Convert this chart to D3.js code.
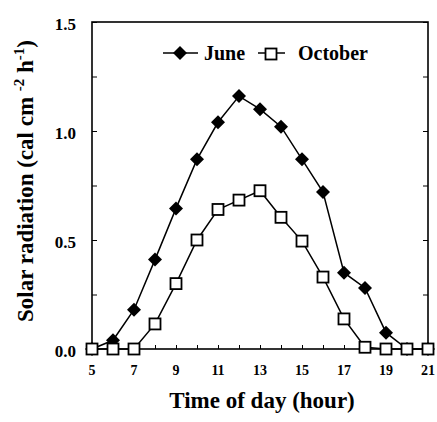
<!DOCTYPE html>
<html>
<head>
<meta charset="utf-8">
<script src="https://cdn.jsdelivr.net/npm/d3@7"></script>
<style>
  html, body { margin: 0; padding: 0; background: #fff; }
  svg { display: block; }
</style>
</head>
<body>
<svg id="chart"></svg>
<script>
// data
const hours = [5, 6, 7, 8, 9, 10, 11, 12, 13, 14, 15, 16, 17, 18, 19, 20, 21]
const june = [0, 0.04, 0.18, 0.41, 0.645, 0.87, 1.04, 1.16, 1.10, 1.02, 0.87, 0.72, 0.35, 0.28, 0.075, 0, 0]
const october = [0, 0, 0, 0.115, 0.30, 0.50, 0.64, 0.683, 0.726, 0.604, 0.495, 0.33, 0.138, 0.008, 0, 0, 0]
const xTicks = [5, 7, 9, 11, 13, 15, 17, 19, 21]
const yTicks = [0, 0.5, 1.0, 1.5]

const width = 437, height = 422
const margin = { top: 22, right: 9, bottom: 73, left: 92 }
const FONT = "'Liberation Serif', 'Times New Roman', serif"

const svg = d3.select('#chart').attr('width', width).attr('height', height)

const x = d3.scaleLinear().domain([5, 21]).range([margin.left, width - margin.right])
const y = d3.scaleLinear().domain([0, 1.5]).range([height - margin.bottom, margin.top])

// ─── frame ───
svg.append('rect')
  .attr('x', x(5)).attr('y', y(1.5))
  .attr('width', x(21) - x(5)).attr('height', y(0) - y(1.5))
  .attr('fill', 'none').attr('stroke', '#000').attr('stroke-width', 1.6)

// ─── axes (ticks pointing inward) ───
const xAxis = svg.append('g')
  .attr('transform', `translate(0,${y(0)})`)
  .call(d3.axisBottom(x).tickValues(d3.range(5, 22, 1)).tickSize(-4).tickFormat(''))
xAxis.select('.domain').remove()

svg.append('g')
  .selectAll('text').data(xTicks).join('text')
  .attr('x', d => x(d)).attr('y', y(0) + 26)
  .attr('text-anchor', 'middle')
  .attr('font-family', FONT).attr('font-weight', 'bold').attr('font-size', '14px')
  .text(d => d)

const yAxis = svg.append('g')
  .attr('transform', `translate(${x(5)},0)`)
  .call(d3.axisLeft(y).tickValues(d3.range(0, 1.51, 0.25)).tickSize(-5).tickFormat(''))
yAxis.select('.domain').remove()

const yAxisR = svg.append('g')
  .attr('transform', `translate(${x(21)},0)`)
  .call(d3.axisRight(y).tickValues(d3.range(0, 1.51, 0.25)).tickSize(-5).tickFormat(''))
yAxisR.select('.domain').remove()

svg.append('g')
  .selectAll('text').data(yTicks).join('text')
  .attr('x', x(5) - 16).attr('y', d => y(d) + 8)
  .attr('text-anchor', 'end')
  .attr('font-family', FONT).attr('font-weight', 'bold').attr('font-size', '17px')
  .text(d => d.toFixed(1))

// ─── axis titles ───
svg.append('text')
  .attr('x', 262).attr('y', 408)
  .attr('text-anchor', 'middle')
  .attr('font-family', FONT).attr('font-weight', 'bold').attr('font-size', '23px')
  .text('Time of day (hour)')

const yTitle = svg.append('text')
  .attr('transform', `translate(33,181) rotate(-90)`)
  .attr('text-anchor', 'middle')
  .attr('font-family', FONT).attr('font-weight', 'bold').attr('font-size', '23px')
yTitle.append('tspan').text('Solar radiation (cal cm ')
yTitle.append('tspan').attr('dy', -9).attr('font-size', '15px').text('-2')
yTitle.append('tspan').attr('dy', 9).text(' h')
yTitle.append('tspan').attr('dy', -9).attr('font-size', '15px').text('-1')
yTitle.append('tspan').attr('dy', 9).text(')')

// ─── series ───
const line = d3.line().x(d => x(d[0])).y(d => y(d[1]))
const juneData = hours.map((h, i) => [h, june[i]])
const octData = hours.map((h, i) => [h, october[i]])

const diamond = d3.symbol().type(d3.symbolSquare).size(98)

svg.append('path').datum(juneData)
  .attr('d', line).attr('fill', 'none').attr('stroke', '#000').attr('stroke-width', 1.5)
svg.append('g').selectAll('path').data(juneData).join('path')
  .attr('transform', d => `translate(${x(d[0])},${y(d[1])}) rotate(45)`)
  .attr('d', diamond).attr('fill', '#000')

svg.append('path').datum(octData)
  .attr('d', line).attr('fill', 'none').attr('stroke', '#000').attr('stroke-width', 1.5)
const sq = 11
svg.append('g').selectAll('rect').data(octData).join('rect')
  .attr('x', d => x(d[0]) - sq / 2).attr('y', d => y(d[1]) - sq / 2)
  .attr('width', sq).attr('height', sq)
  .attr('fill', '#fff').attr('stroke', '#000').attr('stroke-width', 1.8)

// ─── legend ───
const legend = svg.append('g').attr('transform', 'translate(0,53)')
legend.append('line').attr('x1', 163).attr('x2', 198).attr('stroke', '#000').attr('stroke-width', 1.5)
legend.append('path').attr('transform', 'translate(180,0) rotate(45)').attr('d', diamond).attr('fill', '#000')
legend.append('text').attr('x', 204).attr('y', 7)
  .attr('font-family', FONT).attr('font-weight', 'bold').attr('font-size', '20px').text('June')
legend.append('line').attr('x1', 258).attr('x2', 285).attr('stroke', '#000').attr('stroke-width', 1.5)
legend.append('rect').attr('x', 271 - sq / 2).attr('y', -sq / 2 + 1).attr('width', sq).attr('height', sq)
  .attr('fill', '#fff').attr('stroke', '#000').attr('stroke-width', 1.8)
legend.append('text').attr('x', 298).attr('y', 7)
  .attr('font-family', FONT).attr('font-weight', 'bold').attr('font-size', '20px').text('October')
</script>
</body>
</html>
